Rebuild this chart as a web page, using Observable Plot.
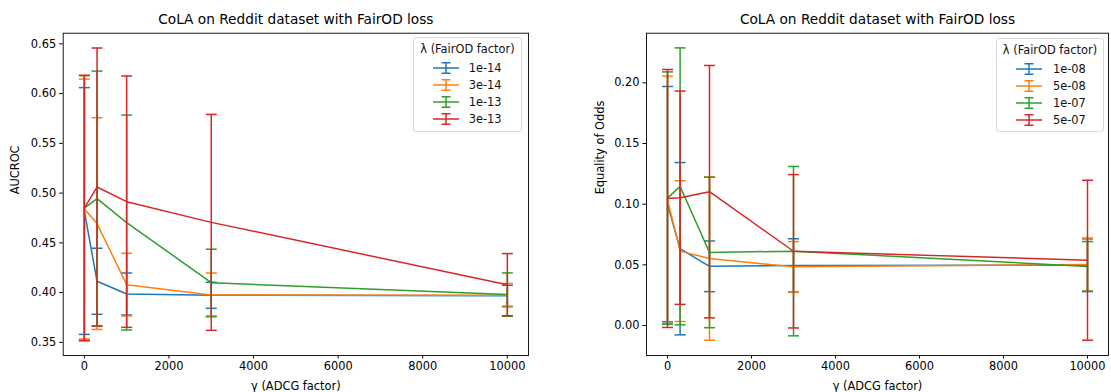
<!DOCTYPE html>
<html><head><meta charset="utf-8">
<script src="https://cdn.jsdelivr.net/npm/d3@7"></script>
<script src="https://cdn.jsdelivr.net/npm/@observablehq/plot@0.6"></script>
<style>
body{margin:0;background:#fff;font-family:"DejaVu Sans",sans-serif;}
#wrap{position:relative;width:1111px;height:392px;overflow:hidden;}
.panel{position:absolute;top:0;}
.legend{position:absolute;border:1px solid #d9d9d9;border-radius:3px;background:rgba(255,255,255,0.85);font-size:11.4px;color:#111;box-sizing:border-box;}
.legend .ttl{position:absolute;left:0;right:0;text-align:center;line-height:13px;}
.legend .row{position:absolute;left:0;height:14px;}
.legend svg{position:absolute;top:1px;}
.legend span{position:absolute;top:0;line-height:14px;white-space:nowrap;}
</style>
</head><body>
<div id="wrap"></div>
<script>
// ---- data ----
const gammas = [0, 300, 1000, 3000, 10000];
const colors = ["#1f77b4", "#ff7f0e", "#2ca02c", "#d62728"];

const leftTitle = "CoLA on Reddit dataset with FairOD loss";
const rightTitle = "CoLA on Reddit dataset with FairOD loss";
const xLabel = "γ (ADCG factor)";
const leftYLabel = "AUCROC";
const rightYLabel = "Equality of Odds";
const legendTitle = "λ (FairOD factor)";

const leftLambdas = ["1e-14", "3e-14", "1e-13", "3e-13"];
const auc_1e14_mean = [0.482, 0.4114, 0.3986, 0.3973, 0.3968];
const auc_1e14_std  = [0.124, 0.0332, 0.0211, 0.0131, 0.0106];
const auc_3e14_mean = [0.484, 0.4694, 0.408, 0.3976, 0.3973];
const auc_3e14_std  = [0.1306, 0.1064, 0.0315, 0.0221, 0.0118];
const auc_1e13_mean = [0.485, 0.4945, 0.4704, 0.410, 0.398];
const auc_1e13_std  = [0.133, 0.1281, 0.108, 0.0336, 0.0218];
const auc_3e13_mean = [0.485, 0.5061, 0.4914, 0.4706, 0.408];
const auc_3e13_std  = [0.1334, 0.1397, 0.1263, 0.1085, 0.0312];

const rightLambdas = ["1e-08", "5e-08", "1e-07", "5e-07"];
const eo_1e08_mean = [0.100, 0.0633, 0.0488, 0.0495, 0.0497];
const eo_1e08_std  = [0.097, 0.071, 0.0209, 0.022, 0.0217];
const eo_5e08_mean = [0.1036, 0.0613, 0.0552, 0.0484, 0.0503];
const eo_5e08_std  = [0.102, 0.058, 0.0673, 0.0208, 0.0218];
const eo_1e07_mean = [0.105, 0.1147, 0.0602, 0.0613, 0.0487];
const eo_1e07_std  = [0.104, 0.1141, 0.062, 0.0698, 0.0205];
const eo_5e07_mean = [0.1047, 0.1053, 0.1103, 0.0612, 0.0538];
const eo_5e07_std  = [0.1063, 0.0879, 0.104, 0.0632, 0.0659];

const xTicks = [0, 2000, 4000, 6000, 8000, 10000];
const leftYTicks = [0.35, 0.40, 0.45, 0.50, 0.55, 0.60, 0.65];
const rightYTicks = [0.00, 0.05, 0.10, 0.15, 0.20];

// ---- build ----
const leftSeries = [
  [auc_1e14_mean, auc_1e14_std], [auc_3e14_mean, auc_3e14_std],
  [auc_1e13_mean, auc_1e13_std], [auc_3e13_mean, auc_3e13_std]
];
const rightSeries = [
  [eo_1e08_mean, eo_1e08_std], [eo_5e08_mean, eo_5e08_std],
  [eo_1e07_mean, eo_1e07_std], [eo_5e07_mean, eo_5e07_std]
];

const capSymbol = {draw(ctx) { ctx.moveTo(-5.5, 0); ctx.lineTo(5.5, 0); }};

function rowsOf([means, stds]) {
  return gammas.map((g, i) => ({g, m: means[i], lo: means[i] - stds[i], hi: means[i] + stds[i]}));
}

function panel({series, yDomain, yTicks, title, yLabel, width, ml, mr, ylabDx}) {
  const marks = [];
  series.forEach((s, k) => {
    const rows = rowsOf(s);
    const c = colors[k];
    marks.push(Plot.line(rows, {x: "g", y: "m", stroke: c, strokeWidth: 1.5, strokeLinejoin: "round"}));
    marks.push(Plot.ruleX(rows, {x: "g", y1: "lo", y2: "hi", stroke: c, strokeWidth: 1.5}));
    marks.push(Plot.dot(rows, {x: "g", y: "hi", symbol: capSymbol, stroke: c, fill: "none", strokeWidth: 1.5}));
    marks.push(Plot.dot(rows, {x: "g", y: "lo", symbol: capSymbol, stroke: c, fill: "none", strokeWidth: 1.5}));
  });
  marks.push(Plot.axisX({ticks: xTicks, tickFormat: d => String(d), tickSize: 3.5, tickPadding: 3, label: null}));
  marks.push(Plot.axisY({ticks: yTicks, tickFormat: d3.format(".2f"), tickSize: 3.5, tickPadding: 3.5, label: null}));
  marks.push(Plot.frame({stroke: "#000", strokeWidth: 0.9}));
  marks.push(Plot.text([title], {frameAnchor: "top", dy: -13.5, lineAnchor: "middle", fontSize: 13.7, fill: "#000"}));
  marks.push(Plot.text([xLabel], {frameAnchor: "bottom", dy: 31, lineAnchor: "middle", fontSize: 11.4, fill: "#000"}));
  marks.push(Plot.text([yLabel], {frameAnchor: "left", dx: ylabDx, rotate: -90, lineAnchor: "middle", fontSize: 11.4, fill: "#000"}));
  return Plot.plot({
    width, height: 392,
    marginLeft: ml, marginRight: mr, marginTop: 32.7, marginBottom: 37,
    style: {fontFamily: "DejaVu Sans", fontSize: "11.4px", color: "#000", background: "transparent", overflow: "visible"},
    x: {type: "linear", domain: [-500, 10500]},
    y: {type: "linear", domain: yDomain},
    marks
  });
}

function legend(labels, left, top, width, height, textLeft) {
  const d = document.createElement("div");
  d.className = "legend";
  Object.assign(d.style, {left: left + "px", top: top + "px", width: width + "px", height: height + "px"});
  const t = document.createElement("div");
  t.className = "ttl"; t.style.top = "5px"; t.textContent = legendTitle;
  d.appendChild(t);
  labels.forEach((lab, k) => {
    const r = document.createElement("div");
    r.className = "row"; r.style.top = (23 + 17 * k) + "px"; r.style.width = width + "px";
    const c = colors[k];
    r.innerHTML = `<svg width="26" height="12" style="left:19px"><line x1="0" x2="26" y1="6" y2="6" stroke="${c}" stroke-width="1.5"/><line x1="13" x2="13" y1="0.5" y2="11.5" stroke="${c}" stroke-width="1.5"/><line x1="8.5" x2="17.5" y1="0.75" y2="0.75" stroke="${c}" stroke-width="1.5"/><line x1="8.5" x2="17.5" y1="11.25" y2="11.25" stroke="${c}" stroke-width="1.5"/></svg><span style="left:${textLeft}px">${lab}</span>`;
    d.appendChild(r);
  });
  return d;
}

const wrap = document.getElementById("wrap");
const L = panel({series: leftSeries, yDomain: [0.3368, 0.6607], yTicks: leftYTicks, title: leftTitle, yLabel: leftYLabel, width: 555, ml: 62.7, mr: 27, ylabDx: -48});
L.classList.add("panel"); L.style.left = "0px";
const R = panel({series: rightSeries, yDomain: [-0.0247, 0.2409], yTicks: rightYTicks, title: rightTitle, yLabel: rightYLabel, width: 556, ml: 91, mr: 3, ylabDx: -46});
R.classList.add("panel"); R.style.left = "555px";
wrap.appendChild(L);
wrap.appendChild(R);
wrap.appendChild(legend(leftLambdas, 412.7, 37.3, 109.5, 94.5, 55));
wrap.appendChild(legend(rightLambdas, 996, 38.3, 108, 93.5, 56));
</script>
</body></html>
